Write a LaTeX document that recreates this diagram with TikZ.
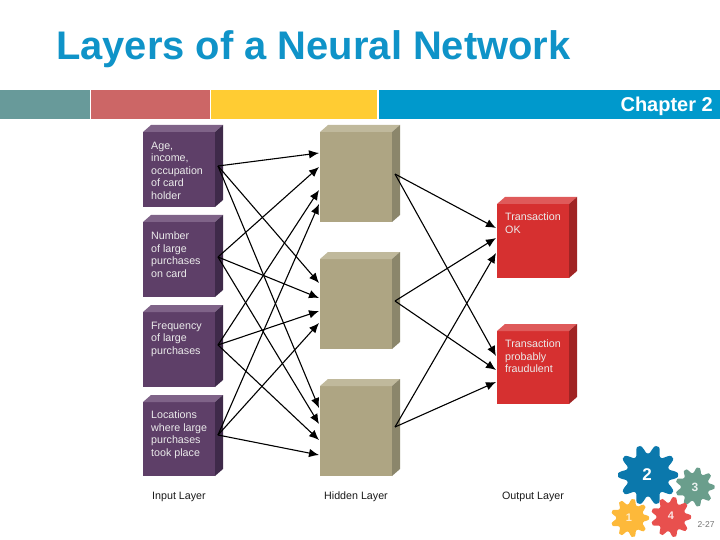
\documentclass[tikz,border=0pt]{standalone}
\usepackage{fontspec}
\setmainfont{Liberation Sans}
\usetikzlibrary{arrows.meta,positioning,calc}
\definecolor{barteal}{HTML}{689A9A}
\definecolor{barred}{HTML}{CC6666}
\definecolor{baryellow}{HTML}{FFCC33}
\definecolor{barblue}{HTML}{0099CC}
\definecolor{titleblue}{HTML}{0F93C8}
\definecolor{inmain}{HTML}{5E3F68}
\definecolor{intop}{HTML}{7F6388}
\definecolor{inside}{HTML}{3F2A4A}
\definecolor{hidmain}{HTML}{AEA583}
\definecolor{hidtop}{HTML}{C0B99C}
\definecolor{hidside}{HTML}{8B866B}
\definecolor{outmain}{HTML}{D63030}
\definecolor{outtop}{HTML}{DF5A5A}
\definecolor{outside}{HTML}{A02424}
\definecolor{gearblue}{HTML}{0B78AC}
\definecolor{geargreen}{HTML}{6A9E8C}
\definecolor{gearyellow}{HTML}{FDB93A}
\definecolor{gearred}{HTML}{E8504E}
% side and top faces of a box node
\newcommand{\boxfaces}[3]{
    \fill[#2] (#1.north west) -- ++(8,-7) -- ($(#1.north east)+(8,-7)$) -- (#1.north east) -- cycle;
    \fill[#3] (#1.north east) -- ++(8,-7) -- ($(#1.south east)+(8,-7)$) -- (#1.south east) -- cycle;
}
% cx, cy, radius, teeth, colour
\newcommand{\gearshape}[5]{
    \fill[#5,rounded corners=1pt] plot[domain=0:360,samples=181,variable=\t]
      ({#1+#3*(0.86+0.14*min(1,max(-1,1.3*cos(#4*\t))))*cos(\t)},
       {#2+#3*(0.86+0.14*min(1,max(-1,1.3*cos(#4*\t))))*sin(\t)}) -- cycle;
}
\begin{document}
\begin{tikzpicture}[x=1pt,y=-1pt,
    barpart/.style={anchor=north west,inner sep=0pt,outer sep=0pt,minimum height=29.5pt},
    layerbox/.style={anchor=north west,inner sep=0pt,outer sep=0pt,minimum width=72pt},
    boxtext/.style={anchor=north west,inner sep=0pt,align=left,text=white!92!black,font=\fontsize{10.7}{12.4}\selectfont},
    layername/.style={inner sep=0pt,font=\fontsize{10.7}{12}\selectfont,text=black!90},
    gearnum/.style={inner sep=0pt,text=white,font=\bfseries},
    conn/.style={draw=black,line width=1.1pt,-{Latex[length=10pt,width=8.5pt]}}]
    \useasboundingbox (0,0) rectangle (720,540);

    % --- Title and bar ---
    \node[anchor=base west,inner sep=0pt,text=titleblue,font=\fontsize{39.9}{42}\bfseries\selectfont] (title) at (56,60) {Layers of a Neural Network};
    \node[barpart,fill=barteal,minimum width=90pt] (bar1) at (0,90) {};
    \node[barpart,fill=barred,minimum width=119pt] (bar2) at (91,90) {};
    \node[barpart,fill=baryellow,minimum width=166pt] (bar3) at (211,90) {};
    \node[barpart,fill=barblue,minimum width=341pt] (bar4) at (379,90) {};
    \node[anchor=base east,inner sep=0pt,text=white,font=\fontsize{20}{22}\bfseries\selectfont] (chapter) at (713,112) {Chapter 2};

    % --- Input layer ---
    \node[layerbox,fill=inmain,minimum height=75pt] (I1) at (143,132) {};
    \node[layerbox,fill=inmain,minimum height=75pt] (I2) at (143,222) {};
    \node[layerbox,fill=inmain,minimum height=75pt] (I3) at (143,312) {};
    \node[layerbox,fill=inmain,minimum height=74pt] (I4) at (143,402) {};
    \foreach \n in {I1,I2,I3,I4} {\boxfaces{\n}{intop}{inside}}
    \node[boxtext] (I1t) at (151,142) {Age,\\income,\\occupation\\of card\\holder};
    \node[boxtext] (I2t) at (151,232) {Number\\of large\\purchases\\on card};
    \node[boxtext] (I3t) at (151,322) {Frequency\\of large\\purchases};
    \node[boxtext] (I4t) at (151,411) {Locations\\where large\\purchases\\took place};

    % --- Hidden layer ---
    \node[layerbox,fill=hidmain,minimum height=90pt] (H1) at (320,132) {};
    \node[layerbox,fill=hidmain,minimum height=90pt] (H2) at (320,259) {};
    \node[layerbox,fill=hidmain,minimum height=90pt] (H3) at (320,386) {};
    \foreach \n in {H1,H2,H3} {\boxfaces{\n}{hidtop}{hidside}}

    % --- Output layer ---
    \node[layerbox,fill=outmain,minimum height=74pt] (O1) at (497,204) {};
    \node[layerbox,fill=outmain,minimum height=73pt] (O2) at (497,331) {};
    \foreach \n in {O1,O2} {\boxfaces{\n}{outtop}{outside}}
    \node[boxtext] (O1t) at (505,213) {Transaction\\OK};
    \node[boxtext] (O2t) at (505,340) {Transaction\\probably\\fraudulent};

    % --- Layer names ---
    \node[layername] (inname) at (179,497) {Input Layer};
    \node[layername] (hidname) at (356,497) {Hidden Layer};
    \node[layername] (outname) at (533,497) {Output Layer};

    % --- Arrow ends ---
    \coordinate (I1o) at (218,166);
    \coordinate (I2o) at (218,257);
    \coordinate (I3o) at (218,345);
    \coordinate (I4o) at (218,435);
    \coordinate (H1o) at (395,174);
    \coordinate (H2o) at (395,301);
    \coordinate (H3o) at (395,427);
    \foreach \h/\ya/\yb/\yc/\yd in {1/153/167/190/204,2/283/298/311/323,3/408/424/440/455} {
      \coordinate (H\h a) at (319,\ya);
      \coordinate (H\h b) at (319,\yb);
      \coordinate (H\h c) at (319,\yc);
      \coordinate (H\h d) at (319,\yd);
    }
    \foreach \o/\ya/\yb/\yc in {1/228/238/253,2/356/370/382} {
      \coordinate (O\o a) at (496,\ya);
      \coordinate (O\o b) at (496,\yb);
      \coordinate (O\o c) at (496,\yc);
    }

    % --- Connections ---
    \foreach \i/\s in {1/a,2/b,3/c,4/d}
      \foreach \h in {1,2,3}
        \draw[conn] (I\i o) -- (H\h\s);
    \foreach \h/\s in {1/a,2/b,3/c}
      \foreach \o in {1,2}
        \draw[conn] (H\h o) -- (O\o\s);

    % --- Gears ---
    \gearshape{695}{487}{19.5}{9}{geargreen}
    \gearshape{648}{475}{30}{10}{gearblue}
    \gearshape{630}{518}{19}{9}{gearyellow}
    \gearshape{671}{517}{20}{9}{gearred}
    \node[gearnum,font=\fontsize{17}{18}\bfseries\selectfont] (g2) at (647,475) {2};
    \node[gearnum,font=\fontsize{12}{14}\bfseries\selectfont,text=white!85!geargreen] (g3) at (695,487) {3};
    \node[gearnum,font=\fontsize{11}{14}\bfseries\selectfont,text=white!75!gearyellow] (g1) at (629,518) {1};
    \node[gearnum,font=\fontsize{11}{14}\bfseries\selectfont,text=white!85!gearred] (g4) at (671,516) {4};
    \node[inner sep=0pt,text=black!55,font=\fontsize{8.5}{10}\selectfont] (pagenum) at (706,525) {2-27};
\end{tikzpicture}
\end{document}
